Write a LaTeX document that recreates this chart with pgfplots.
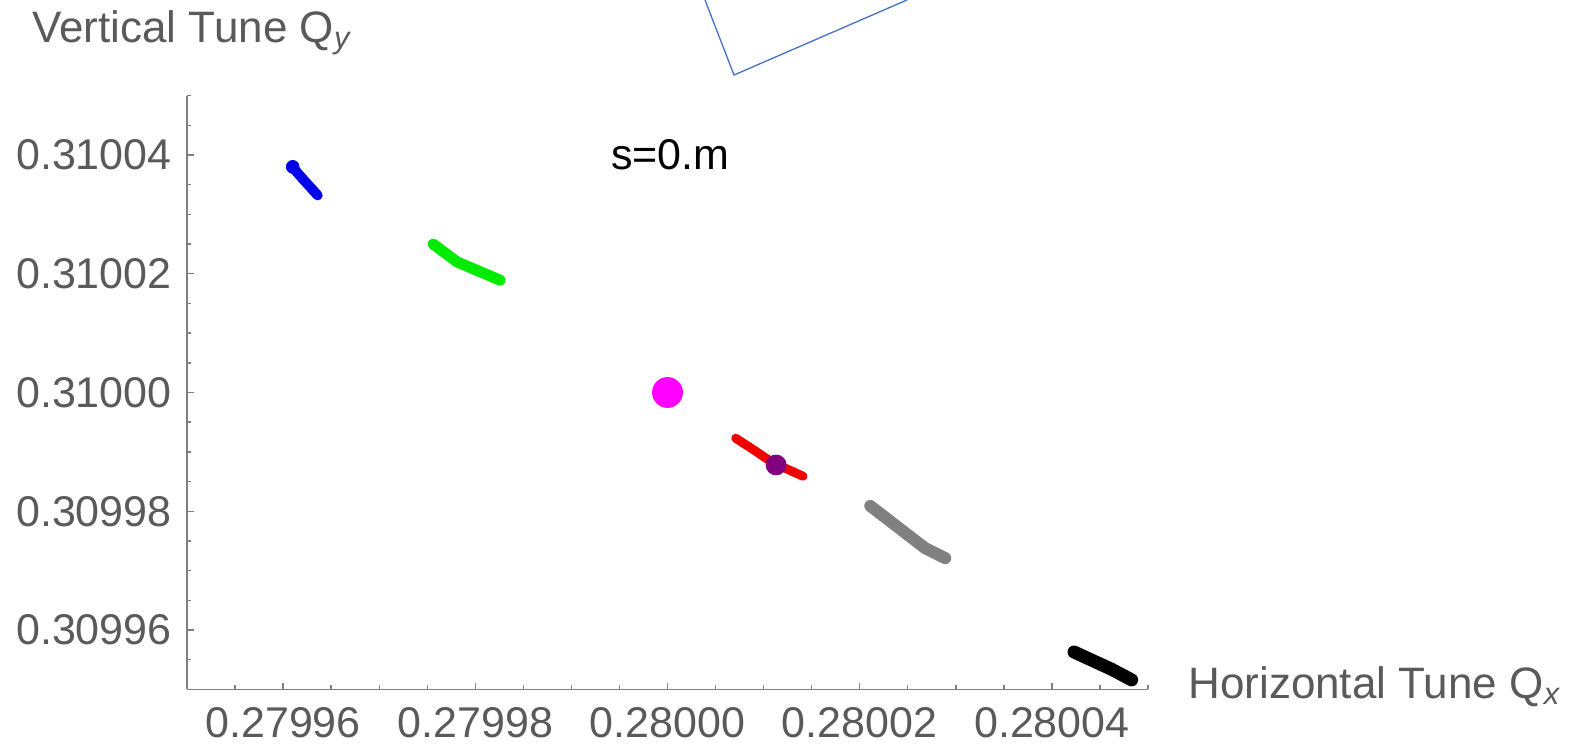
\documentclass[border=0pt]{standalone}
\usepackage{fontspec}
\setmainfont{Liberation Sans}
\usepackage{pgfplots}
\pgfplotsset{compat=1.18}
\definecolor{axgray}{RGB}{128,128,128}
\definecolor{txtgray}{RGB}{90,90,90}
\definecolor{callout}{RGB}{68,114,196}
\definecolor{mblue}{RGB}{0,0,235}
\definecolor{mgreen}{RGB}{0,235,0}
\definecolor{mred}{RGB}{240,0,0}
\definecolor{mgray}{RGB}{128,128,128}
\definecolor{mmagenta}{RGB}{255,0,255}
\definecolor{mpurple}{RGB}{128,0,128}
% Data in offsets: x = (Qx - 0.28)*1e5, y = (Qy - 0.31)*1e5
\begin{document}
\begin{tikzpicture}
\useasboundingbox (-93.5pt,-28.3pt) rectangle (695.5pt,344.7pt);
\begin{axis}[
  at={(0,0)}, anchor=south west,
  scale only axis, width=480.5pt, height=296.9pt,
  xmin=-5, xmax=5, ymin=-5, ymax=5,
  axis x line=bottom, axis y line=left,
  axis line style={-, axgray, line width=0.9pt},
  tick align=inside,
  major tick length=3.4pt, minor tick length=2.2pt,
  every tick/.style={axgray, line width=0.7pt},
  xtick={-4,-2,0,2,4},
  xticklabels={0.27996,0.27998,0.28000,0.28002,0.28004},
  ytick={-4,-2,0,2,4},
  yticklabels={0.30996,0.30998,0.31000,0.31002,0.31004},
  minor xtick={-5,-4.5,...,5},
  minor ytick={-5,-4.5,...,5},
  tick label style={font=\fontsize{21.5}{24}\selectfont, text=txtgray, inner sep=0pt},
  xticklabel style={yshift=-9pt},
  yticklabel style={xshift=-7.5pt},
  clip=false,
]
% blue
\addplot[mblue, line width=5pt, line cap=round, line join=round, no marks] coordinates {(-3.91,3.81) (-3.78,3.57) (-3.64,3.32)};
\addplot[mblue, only marks, mark=*, mark size=3.2pt] coordinates {(-3.90,3.80)};
% green
\addplot[mgreen, line width=5.5pt, line cap=round, line join=round, no marks] coordinates {(-2.44,2.50) (-2.19,2.20) (-1.74,1.89)};
% magenta dot
\addplot[only marks, mark=*, mark size=7.5pt, mmagenta] coordinates {(0,0)};
% red
\addplot[mred, line width=4.5pt, line cap=round, line join=round, no marks, smooth] coordinates {(0.71,-0.77) (0.91,-0.98) (1.09,-1.17) (1.41,-1.41)};
% purple dot
\addplot[only marks, mark=*, mark size=5pt, mpurple] coordinates {(1.13,-1.22)};
% gray
\addplot[mgray, line width=6pt, line cap=round, line join=round, no marks] coordinates {(2.11,-1.91) (2.68,-2.62) (2.89,-2.79)};
% black
\addplot[black, line width=6.5pt, line cap=round, line join=round, no marks] coordinates {(4.23,-4.37) (4.62,-4.66) (4.83,-4.84)};
\node[font=\fontsize{21.5}{24}\selectfont, text=black] at (axis cs:0.03,4.0) {s=0.m};
\node[anchor=base west, text=txtgray, font=\fontsize{22}{26}\selectfont, inner sep=0pt] at (rel axis cs:-0.1613,1.090) {Vertical Tune Q\textsubscript{\itshape y}};
\node[anchor=base west, text=txtgray, font=\fontsize{22}{26}\selectfont, inner sep=0pt] at (rel axis cs:1.0416,-0.0145) {Horizontal Tune Q\textsubscript{\itshape x}};
\end{axis}
\draw[callout, line width=0.65pt] (259pt,344.7pt) -- (273.5pt,307.2pt) -- (360pt,344.7pt);
\end{tikzpicture}
\end{document}
